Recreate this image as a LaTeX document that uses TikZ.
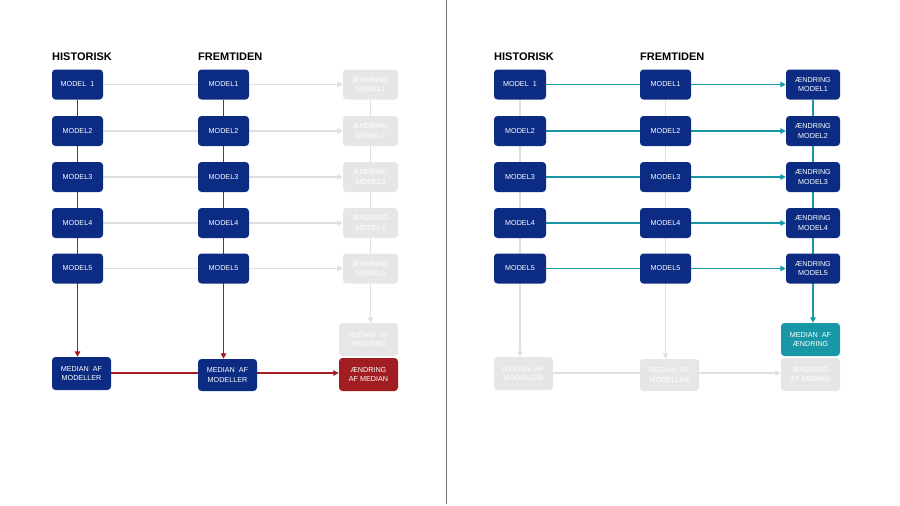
\documentclass[tikz,border=0pt]{standalone}
\usepackage{fontspec}
\setmainfont{Liberation Sans}
\usetikzlibrary{arrows.meta,backgrounds}
\definecolor{mblue}{HTML}{0C2C84}
\definecolor{mred}{HTML}{A21D22}
\definecolor{mteal}{HTML}{1898A6}
\definecolor{gbox}{HTML}{E6E6E6}
\definecolor{gline}{HTML}{E0E0E0}
\definecolor{sep}{HTML}{707070}
\tikzset{
  box/.style={rounded corners=3.5pt, inner sep=0pt, minimum height=30pt, align=center,
    text=white, font=\fontsize{7.2}{9.3}\selectfont},
  bluebox/.style={box, fill=mblue},
  graybox/.style={box, fill=gbox},
  redbox/.style={box, fill=mred},
  tealbox/.style={box, fill=mteal},
  hdr/.style={anchor=west, inner sep=0pt, font=\fontsize{11}{13}\selectfont\bfseries},
  tip/.style={-{Triangle[length=5.5pt,width=5.5pt]}},
  redl/.style={draw=mred, line width=1.4pt},
  teall/.style={draw=mteal, line width=1.4pt},
  grayl/.style={draw=gline, line width=1.4pt},
}
\begin{document}
\begin{tikzpicture}[x=1pt,y=-1pt]
\useasboundingbox (0,0) rectangle (900,506);
\draw[sep, line width=1.3pt] (446.5,0) -- (446.5,504);

% ---------------- LEFT PANEL ----------------
\node[hdr] (LH1) at (52,57) {HISTORISK};
\node[hdr] (LH2) at (198,57) {FREMTIDEN};

\foreach \r/\y/\t in {1/84.5/{MODEL\ \ 1},2/131/MODEL2,3/177/MODEL3,4/223/MODEL4,5/268.5/MODEL5}{
  \node[bluebox, minimum width=51pt] (La\r) at (77.5,\y) {\t};
}
\foreach \r/\y in {1/84.5,2/131,3/177,4/223,5/268.5}{
  \node[bluebox, minimum width=51pt] (Lb\r) at (223.5,\y) {MODEL\r};
  \node[graybox, minimum width=55pt] (Lc\r) at (370.5,\y) {ÆNDRING\\MODEL\r};
}
\node[bluebox, minimum width=59pt, minimum height=33pt] (LMa) at (81.5,373.5) {MEDIAN\ \ AF\\MODELLER};
\node[bluebox, minimum width=59pt, minimum height=32pt] (LMb) at (227.5,375) {MEDIAN\ \ AF\\MODELLER};
\node[graybox, minimum width=59pt, minimum height=33pt] (LMc) at (368.5,339.5) {MEDIAN\ \ AF\\ÆNDRING};
\node[redbox, minimum width=59pt, minimum height=33pt] (LRc) at (368.5,374.5) {ÆNDRING\\AF MEDIAN};

% ---------------- RIGHT PANEL ----------------
\node[hdr] (RH1) at (494,57) {HISTORISK};
\node[hdr] (RH2) at (640,57) {FREMTIDEN};

\foreach \r/\y/\t in {1/84.5/{MODEL\ \ 1},2/131/MODEL2,3/177/MODEL3,4/223/MODEL4,5/268.5/MODEL5}{
  \node[bluebox, minimum width=52pt] (Ra\r) at (520,\y) {\t};
}
\foreach \r/\y in {1/84.5,2/131,3/177,4/223,5/268.5}{
  \node[bluebox, minimum width=51pt] (Rb\r) at (665.5,\y) {MODEL\r};
  \node[bluebox, minimum width=54pt] (Rc\r) at (813,\y) {ÆNDRING\\MODEL\r};
}
\node[graybox, minimum width=59pt, minimum height=33pt] (RMa) at (523.5,373.5) {MEDIAN\ \ AF\\MODELLER};
\node[graybox, minimum width=59pt, minimum height=32pt] (RMb) at (669.5,375) {MEDIAN\ \ AF\\MODELLER};
\node[tealbox, minimum width=59pt, minimum height=33pt] (RMc) at (810.5,339.5) {MEDIAN\ \ AF\\ÆNDRING};
\node[graybox, minimum width=59pt, minimum height=33pt] (RRc) at (810.5,374.5) {ÆNDRING\\AF MEDIAN};

\begin{scope}[on background layer]
  % left: gray rows
  \foreach \r in {1,...,5}{
    \draw[grayl] (La\r.east) -- (Lb\r.west);
    \draw[grayl, tip] (Lb\r.east) -- (Lc\r.west);
  }
  \draw[grayl, tip] (Lc1.south) -- (Lc1.south |- LMc.north);
  % left: red
  \draw[redl, tip] (La1.south) -- (La1.south |- LMa.north);
  \draw[redl, tip] (Lb1.south) -- (Lb1.south |- LMb.north);
  \draw[redl] (LMa.east |- 0,373) -- (LMb.west |- 0,373);
  \draw[redl, tip] (LMb.east |- 0,373) -- (LRc.west |- 0,373);

  % right: teal rows
  \foreach \r in {1,...,5}{
    \draw[teall] (Ra\r.east) -- (Rb\r.west);
    \draw[teall, tip] (Rb\r.east) -- (Rc\r.west);
  }
  \draw[teall, tip] (Rc1.south) -- (Rc1.south |- RMc.north);
  % right: gray
  \draw[grayl, tip] (Ra1.south) -- (Ra1.south |- RMa.north);
  \draw[grayl, tip] (Rb1.south) -- (Rb1.south |- RMb.north);
  \draw[grayl] (RMa.east |- 0,373) -- (RMb.west |- 0,373);
  \draw[grayl, tip] (RMb.east |- 0,373) -- (RRc.west |- 0,373);
\end{scope}
\end{tikzpicture}
\end{document}
